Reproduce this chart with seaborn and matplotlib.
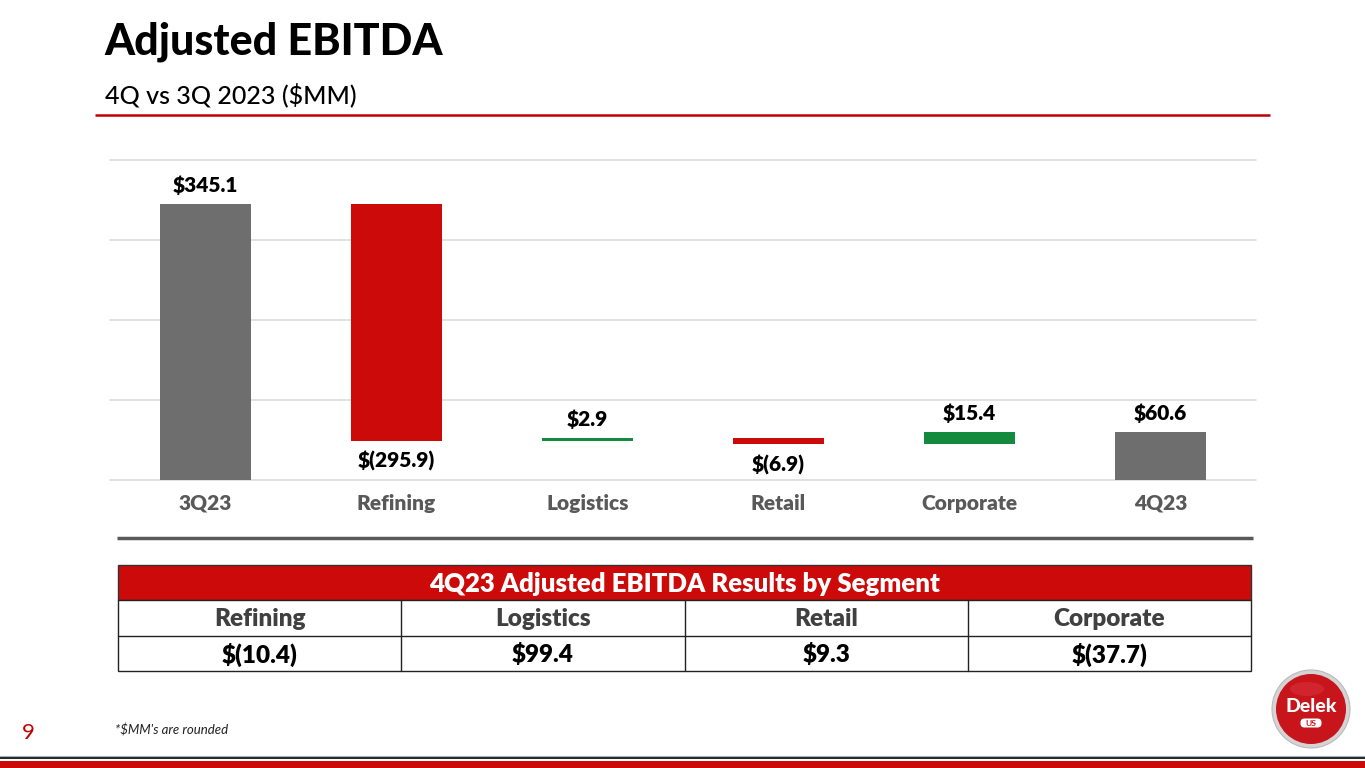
import numpy as np
import pandas as pd
import matplotlib
matplotlib.use("Agg")
import matplotlib.pyplot as plt
import seaborn as sns
from matplotlib.patches import Rectangle, Circle, FancyBboxPatch, Ellipse

# ---------------- data ----------------
categories = ["3Q23", "Refining", "Logistics", "Retail", "Corporate", "4Q23"]
changes = [345.1, -295.9, 2.9, -6.9, 15.4, 60.6]
is_total = [True, False, False, False, False, True]
value_labels = ["$345.1", "$(295.9)", "$2.9", "$(6.9)", "$15.4", "$60.6"]
y_ticks = [0, 100, 200, 300, 400]

table_title = "4Q23 Adjusted EBITDA Results by Segment"
seg_names = ["Refining", "Logistics", "Retail", "Corporate"]
seg_values = ["$(10.4)", "$99.4", "$9.3", "$(37.7)"]

title = "Adjusted EBITDA"
subtitle = "4Q vs 3Q 2023 ($MM)"
footnote = "*$MM's are rounded"
page_no = "9"

# ---------------- style ----------------
GRAY = "#6E6E6E"
RED = "#CC0A0A"
GREEN = "#138A3E"
DARKRED = "#C00000"

sns.set_theme(style="white")
plt.rcParams["font.family"] = ["Lato", "DejaVu Sans"]

# waterfall bottoms
bottoms = []
running = 0.0
for c, t in zip(changes, is_total):
    if t:
        bottoms.append(0.0)
        running = c
    else:
        bottoms.append(running)
        running += c

colors = [GRAY if t else (GREEN if c >= 0 else RED) for c, t in zip(changes, is_total)]

W, H = 1365, 768
fig = plt.figure(figsize=(W / 100, H / 100), dpi=100)
fig.patch.set_facecolor("white")

# overlay axes in pixel coordinates for slide decorations
ov = fig.add_axes([0, 0, 1, 1], zorder=0)
ov.set_xlim(0, W)
ov.set_ylim(H, 0)
ov.axis("off")

ax = fig.add_axes([110 / W, 1 - 480 / H, 1146 / W, 320 / H], zorder=1)
ax.patch.set_alpha(0)

df = pd.DataFrame({"category": categories, "change": changes})
sns.barplot(data=df, x="category", y="change", order=categories, bottom=bottoms,
            width=0.48, errorbar=None, color=GRAY, saturation=1, linewidth=0, ax=ax)
for p, c in zip(ax.patches, colors):
    p.set_facecolor(c)
    p.set_edgecolor(c)

ax.set_xlim(-0.5, 5.5)
ax.set_ylim(0, 400)
ax.set_yticks(y_ticks)
ax.yaxis.grid(True, color="#D9D9D9", lw=1.1)
for gl in ax.yaxis.get_gridlines():
    gl.set_clip_on(False)
ax.xaxis.grid(False)
ax.set_axisbelow(True)
for s in ax.spines.values():
    s.set_visible(False)
ax.tick_params(axis="y", left=False, labelleft=False)
ax.tick_params(axis="x", bottom=False, pad=4)
ax.set_xlabel("")
ax.set_ylabel("")
ax.set_xticks(range(len(categories)), categories, fontsize=15, fontweight="heavy", color="#595959")

for i, (c, b) in enumerate(zip(changes, bottoms)):
    top = b + c
    off = 13.5 if c >= 0 else -15
    ax.annotate(value_labels[i], (i, top), xytext=(0, off), textcoords="offset points",
                ha="center", va="center", fontsize=15, fontweight="heavy", color="black")

# ---------------- header ----------------
ov.text(104, 55, title, fontsize=31, fontweight="black", color="black", va="baseline", ha="left")
ov.text(105, 103, subtitle, fontsize=18, fontweight="medium", color="black", va="baseline", ha="left")
ov.plot([95, 1270], [115, 115], color=DARKRED, lw=1.8, solid_capstyle="butt")

# separator line under chart
ov.plot([117, 1253], [538, 538], color="#595959", lw=2.5, solid_capstyle="butt")

# ---------------- table ----------------
tx0, tx1 = 118, 1251
ry = [565, 600, 636, 671]
ov.add_patch(Rectangle((tx0, ry[0]), tx1 - tx0, ry[1] - ry[0], fc=RED, ec="#333333", lw=1))
ov.add_patch(Rectangle((tx0, ry[1]), tx1 - tx0, ry[3] - ry[1], fc="white", ec="#222222", lw=1))
ov.plot([tx0, tx1], [ry[2], ry[2]], color="#222222", lw=1)
colw = (tx1 - tx0) / len(seg_names)
for k in range(1, len(seg_names)):
    xk = tx0 + k * colw
    ov.plot([xk, xk], [ry[1], ry[3]], color="#222222", lw=1)
ov.text((tx0 + tx1) / 2, (ry[0] + ry[1]) / 2 + 1, table_title, color="white", fontsize=18.5,
        fontweight="heavy", ha="center", va="center")
for k, (n, v) in enumerate(zip(seg_names, seg_values)):
    cx = tx0 + (k + 0.5) * colw
    ov.text(cx, (ry[1] + ry[2]) / 2 + 1, n, color="#404040", fontsize=17.5, fontweight="heavy",
            ha="center", va="center")
    ov.text(cx, (ry[2] + ry[3]) / 2 + 1, v, color="black", fontsize=17.5, fontweight="heavy",
            ha="center", va="center")

# ---------------- footer ----------------
ov.text(28, 733, page_no, color=DARKRED, fontsize=16, ha="center", va="center")
ov.text(115, 730, footnote, color="#222222", fontsize=9.5, fontstyle="italic", ha="left", va="center")
ov.plot([0, W], [755.5, 755.5], color="#A8B0B8", lw=0.8)
ov.plot([0, W], [757.5, 757.5], color="black", lw=1.2)
ov.add_patch(Rectangle((0, 761), W, 8, fc=RED, ec="none"))

# ---------------- logo ----------------
lx, ly = 1311, 709
ov.add_patch(Circle((lx, ly), 39, fc="#D4D4D4", ec="#BBBBBB", lw=0.8))
ov.add_patch(Circle((lx, ly), 35, fc="#C8141B", ec="none"))
ov.add_patch(Ellipse((lx - 4, ly - 20), 34, 14, fc="#E0474C", ec="none", alpha=0.35))
ov.text(lx, ly - 2, "Delek", color="white", fontsize=14, fontweight="black", ha="center", va="center")
ov.add_patch(FancyBboxPatch((lx - 9, ly + 11), 18, 6, boxstyle="round,pad=1.5,rounding_size=4",
                            fc="white", ec="none"))
ov.text(lx, ly + 14, "US", color="#C8141B", fontsize=6, fontweight="bold", ha="center", va="center")

fig.savefig("out.png", dpi=100, facecolor="white")
